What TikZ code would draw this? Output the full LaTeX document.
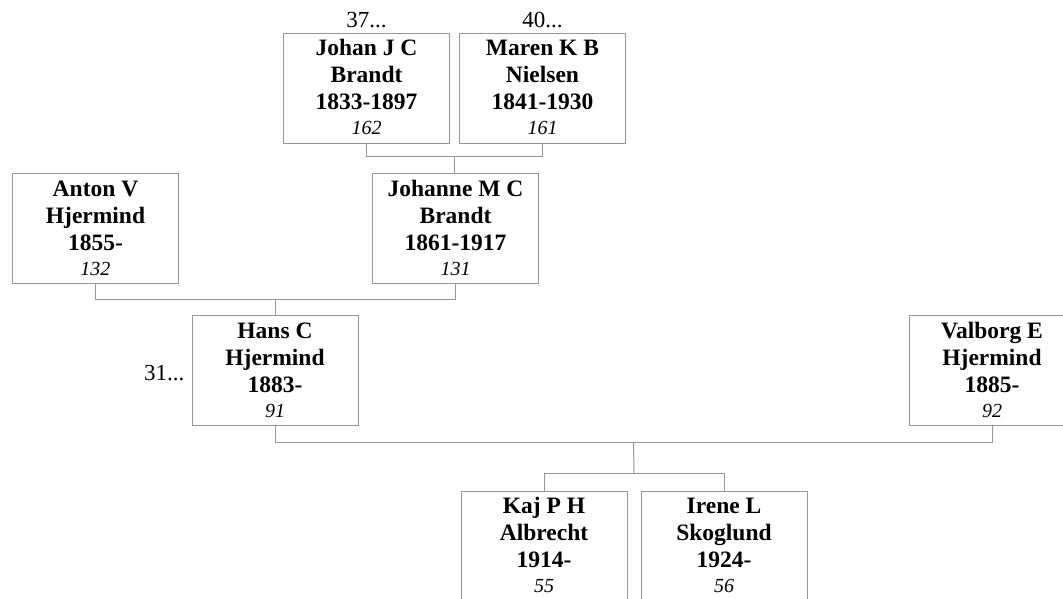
\documentclass[tikz,border=0pt]{standalone}
\usepackage{fontspec}
\setmainfont{Liberation Serif}
\usetikzlibrary{positioning, calc}

\definecolor{linegray}{RGB}{150,150,150}
\newcommand{\person}[4]{%
  \rule{0pt}{17pt}#1\\#2\\#3\\[-2pt]\fontsize{20}{25}\selectfont\mdseries\itshape #4}
\newcommand{\open}{\hspace*{.25em}}

\begin{document}
\begin{tikzpicture}[x=1pt, y=1pt,
    personbox/.style={draw=linegray, line width=1pt, rectangle, minimum width=166pt,
      minimum height=110pt, inner sep=0pt, align=center, text depth=3pt,
      font=\fontsize{23.5}{27}\selectfont\bfseries},
    more/.style={font=\fontsize{23}{26}\selectfont, inner sep=0pt},
    link/.style={draw=linegray, line width=1pt}]
    \useasboundingbox (0,0) rectangle (1063,-598);
        % Ancestors of Kaj P H Albrecht and Irene L Skoglund
        \node[personbox] (johan) at (366.5,-88) {\person{Johan J C}{Brandt}{1833-1897}{162}};
        \node[personbox, right=9pt of johan] (maren) {\person{Maren K B}{Nielsen}{1841-1930}{161}};
        \node[personbox] (anton) at (95.5,-228.5) {\person{Anton V}{Hjermind}{1855-\open}{132}};
        \node[personbox] (johanne) at (455.5,-228.5) {\person{Johanne M C}{Brandt}{1861-1917}{131}};
        \node[personbox] (hans) at (275,-370.5) {\person{Hans C}{Hjermind}{1883-\open}{91}};
        \node[personbox] (valborg) at (992,-370.5) {\person{Valborg E}{Hjermind}{1885-\open}{92}};
        \node[personbox] (kaj) at (544,-546) {\person{Kaj P H}{Albrecht}{1914-\open}{55}};
        \node[personbox, right=13pt of kaj] (irene) {\person{Irene L}{Skoglund}{1924-\open}{56}};

        % earlier generations
        \node[more, above=4pt of johan] (johanmore) {37...};
        \node[more, above=4pt of maren] (marenmore) {40...};
        \node[more, left=7pt of hans, yshift=-3pt] (hansmore) {31...};

        % family links
        \coordinate (jm) at ($(johan.south)!0.5!(maren.south)+(0,-13)$);
        \draw[link] (johan.south) -- ++(0,-13) -| (maren.south);
        \draw[link] (jm) -- (jm |- johanne.north);
        \coordinate (aj) at ($(anton.south)!0.5!(johanne.south)+(0,-15)$);
        \draw[link] (anton.south) -- ++(0,-15) -| (johanne.south);
        \draw[link] (aj) -- (aj |- hans.north);
        \coordinate (hv) at ($(hans.south)!0.5!(valborg.south)+(0,-16)$);
        \draw[link] (hans.south) -- ++(0,-16) -| (valborg.south);
        \coordinate (ki) at ($(kaj.north)!0.5!(irene.north)+(0,17)$);
        \draw[link] (hv) -- (ki);
        \draw[link] (kaj.north) -- ++(0,17) -| (irene.north);
\end{tikzpicture}
\end{document}
